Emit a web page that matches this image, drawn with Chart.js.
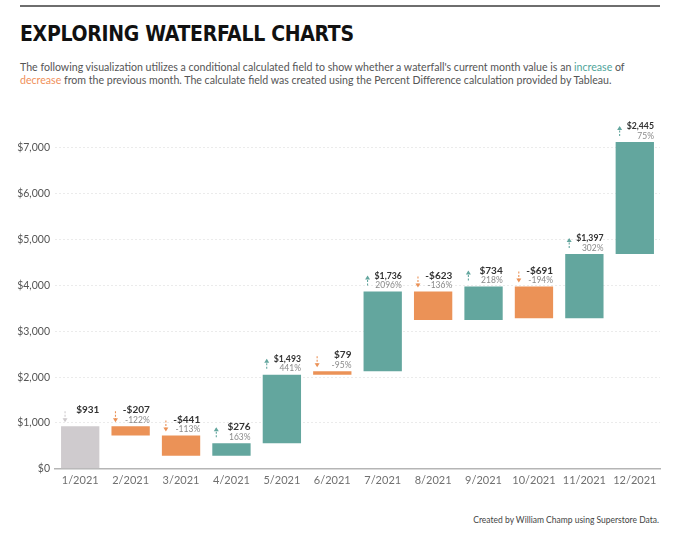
<!DOCTYPE html>
<html>
<head>
<meta charset="utf-8">
<script src="https://cdn.jsdelivr.net/npm/chart.js@4"></script>
<style>
  html, body { margin: 0; padding: 0; background: #fff; }
  body { width: 680px; height: 544px; position: relative; overflow: hidden; font-family: Lato, "Open Sans", sans-serif; }
  .rule { position: absolute; left: 20px; top: 5px; width: 640px; height: 2px; background: #6e6e6e; }
  h1 { position: absolute; left: 20px; top: 22px; margin: 0; font-family: "DejaVu Sans Condensed", sans-serif; font-weight: bold; font-size: 21px; color: #111; letter-spacing: -0.3px; }
  .desc { position: absolute; left: 20px; top: 61px; width: 660px; margin: 0; font-size: 10.6px; line-height: 12.5px; color: #555; white-space: nowrap; }
  .inc { color: #4fa59a; }
  .dec { color: #f0905a; }
  .wrap { position: absolute; left: 0; top: 100px; width: 680px; height: 400px; }
  .foot { position: absolute; right: 21px; top: 515px; font-size: 8.5px; color: #444; }
</style>
</head>
<body>
<div class="rule"></div>
<h1>EXPLORING WATERFALL CHARTS</h1>
<p class="desc">The following visualization utilizes a conditional calculated field to show whether a waterfall's current month value is an <span class="inc">increase</span> of<br><span class="dec">decrease</span> from the previous month. The calculate field was created using the Percent Difference calculation provided by Tableau.</p>
<div class="wrap"><canvas id="chart"></canvas></div>
<div class="foot">Created by William Champ using Superstore Data.</div>
<script>
const months = ['1/2021', '2/2021', '3/2021', '4/2021', '5/2021', '6/2021',
                '7/2021', '8/2021', '9/2021', '10/2021', '11/2021', '12/2021'];
// month-over-month change in sales
const changes = [931, -207, -441, 276, 1493, 79, 1736, -623, 734, -691, 1397, 2445];
// percent difference of the change vs previous month (null for first month)
const pctDiff = [null, -122, -113, 163, 441, -95, 2096, -136, 218, -194, 302, 75];
const yTicks = [0, 1000, 2000, 3000, 4000, 5000, 6000, 7000];

const TEAL = '#63a69e';
const ORANGE = '#eb9257';
const GRAY = '#cfcbce';

// running total -> floating [start, end] bars
let running = 0;
const ranges = changes.map(c => {
    const start = running;
    running += c;
    return [start, running];
});

const colorFor = (i) => {
    if (pctDiff[i] === null) return GRAY;
    return pctDiff[i] >= 0 ? TEAL : ORANGE;
};

const fmtMoney = (v) => (v < 0 ? '-$' : '$') + Math.abs(v).toLocaleString('en-US');

// arrows + amount/percent labels above each bar
const labelPlugin = {
    id: 'waterfallLabels',
    afterDatasetsDraw(chart) {
        const ctx = chart.ctx;
        const meta = chart.getDatasetMeta(0);
        meta.data.forEach((bar, i) => {
            const top = Math.min(bar.y, bar.base);
            const left = bar.x - bar.width / 2;
            const right = bar.x + bar.width / 2;
            const col = colorFor(i);
            const maxW = bar.width - 11; // keep text clear of the arrow

            ctx.save();
            ctx.textAlign = 'right';
            ctx.textBaseline = 'middle';
            ctx.fillStyle = '#333';
            ctx.font = 'bold 10px Lato, sans-serif';
            ctx.fillText(fmtMoney(changes[i]), right, top - 16, maxW);
            if (pctDiff[i] !== null) {
                ctx.fillStyle = '#8a8a8a';
                ctx.font = '8.5px Lato, sans-serif';
                ctx.fillText(pctDiff[i] + '%', right, top - 6, maxW);
            }

            // small dashed arrow
            const ax = left + 4;
            const y1 = top - 15;
            const y2 = top - 5;
            const up = col === TEAL;
            ctx.strokeStyle = col;
            ctx.fillStyle = col;
            ctx.lineWidth = 1.1;
            ctx.setLineDash([2, 1.5]);
            ctx.beginPath();
            ctx.moveTo(ax, y1);
            ctx.lineTo(ax, y2);
            ctx.stroke();
            ctx.setLineDash([]);
            ctx.beginPath();
            if (up) {
                ctx.moveTo(ax - 2.5, y1 + 3);
                ctx.lineTo(ax, y1 - 1);
                ctx.lineTo(ax + 2.5, y1 + 3);
            } else {
                ctx.moveTo(ax - 2.5, y2 - 3);
                ctx.lineTo(ax, y2 + 1);
                ctx.lineTo(ax + 2.5, y2 - 3);
            }
            ctx.closePath();
            ctx.fill();
            ctx.restore();
        });
    }
};

new Chart(document.getElementById('chart'), {
    type: 'bar',
    data: {
        labels: months,
        datasets: [{
            data: ranges,
            backgroundColor: months.map((m, i) => colorFor(i)),
            borderSkipped: false,
            barPercentage: 0.76,
            categoryPercentage: 1.0,
        }],
    },
    options: {
        responsive: true,
        maintainAspectRatio: false,
        animation: false,
        layout: { padding: { left: 0, right: 20, top: 10, bottom: 8 } },
        plugins: {
            legend: { display: false },
            tooltip: { enabled: false },
        },
        scales: {
            x: {
                grid: { display: false, drawTicks: false },
                border: { display: true, color: '#b5b5b5', width: 1.5 },
                ticks: { color: '#707070', font: { family: 'Lato', size: 11 }, padding: 5 },
            },
            y: {
                min: 0,
                max: 7800,
                afterBuildTicks: (s) => { s.ticks = yTicks.map(v => ({ value: v })); },
                afterFit: (s) => { s.width = 55; },
                grid: { color: '#ebebeb', drawTicks: false, tickLength: 0 },
                border: { display: false, dash: [2, 2] },
                ticks: {
                    color: '#555',
                    padding: 5,
                    font: { family: 'Lato', size: 10.5 },
                    callback: (v) => '$' + v.toLocaleString('en-US'),
                },
            },
        },
    },
    plugins: [labelPlugin],
});
</script>
</body>
</html>
